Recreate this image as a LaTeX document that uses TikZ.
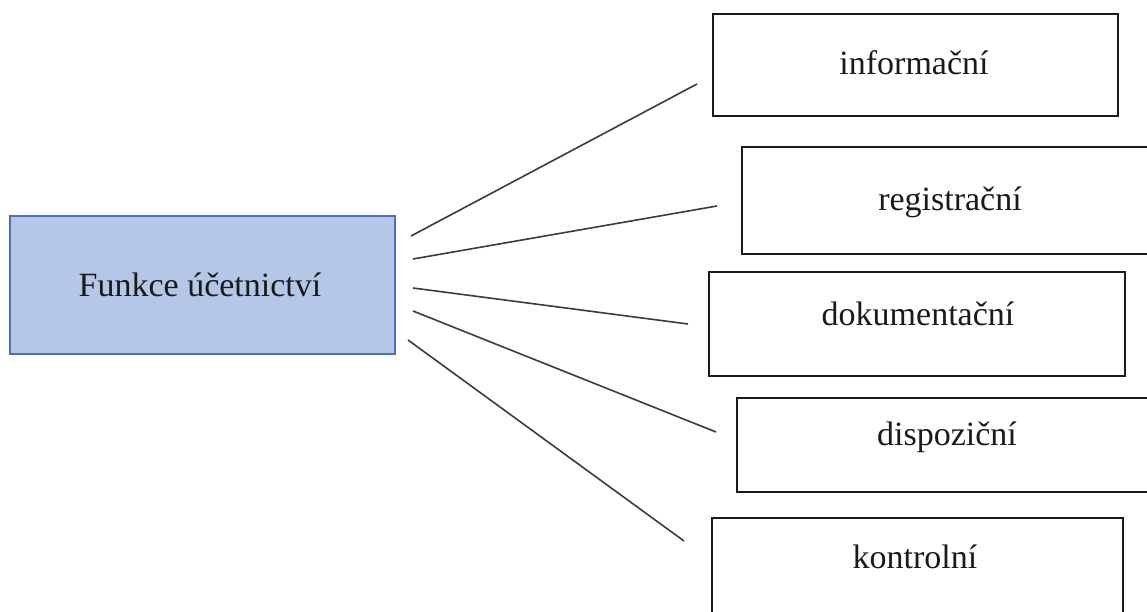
\documentclass[tikz,border=0pt]{standalone}
\usepackage{fontspec}
\setmainfont{Liberation Serif}
\definecolor{mainfill}{HTML}{B4C7E7}
\definecolor{mainedge}{HTML}{4A72B8}
\definecolor{ink}{HTML}{1A1A1A}
\begin{document}
\begin{tikzpicture}[x=1pt,y=-1pt,
  boxstyle/.style={draw=ink,line width=1.8pt},
  mainbox/.style={draw=mainedge,fill=mainfill,line width=1.8pt},
  lbl/.style={anchor=base,inner sep=0pt,text=ink,font=\fontsize{34}{40}\selectfont},
  conn/.style={draw=ink!85,line width=1.6pt}]
\clip (0,0) rectangle (1147,612);
\fill[white] (0,0) rectangle (1147,612);
% boxes
\draw[mainbox] (10,216) rectangle (395,354);
\draw[boxstyle] (713,14) rectangle (1118,116);
\draw[boxstyle] (742,147) rectangle (1160,254);
\draw[boxstyle] (709,272) rectangle (1125,376);
\draw[boxstyle] (737,398) rectangle (1160,492);
\draw[boxstyle] (712,518) rectangle (1123,640);
% labels
\node[lbl] (tmain) at (200,296) {Funkce účetnictví};
\node[lbl] (t1) at (914,75) {informační};
\node[lbl] (t2) at (950,211) {registrační};
\node[lbl] (t3) at (918,325) {dokumentační};
\node[lbl] (t4) at (947,445) {dispoziční};
\node[lbl] (t5) at (915,568) {kontrolní};
% connector ends
\coordinate (s1) at (411,236); \coordinate (e1) at (697,84);
\coordinate (s2) at (413,259); \coordinate (e2) at (717,206);
\coordinate (s3) at (413,288); \coordinate (e3) at (688,324);
\coordinate (s4) at (413,311); \coordinate (e4) at (716,432);
\coordinate (s5) at (408,340); \coordinate (e5) at (684,541);
\draw[conn] (s1) -- (e1);
\draw[conn] (s2) -- (e2);
\draw[conn] (s3) -- (e3);
\draw[conn] (s4) -- (e4);
\draw[conn] (s5) -- (e5);
\end{tikzpicture}
\end{document}
